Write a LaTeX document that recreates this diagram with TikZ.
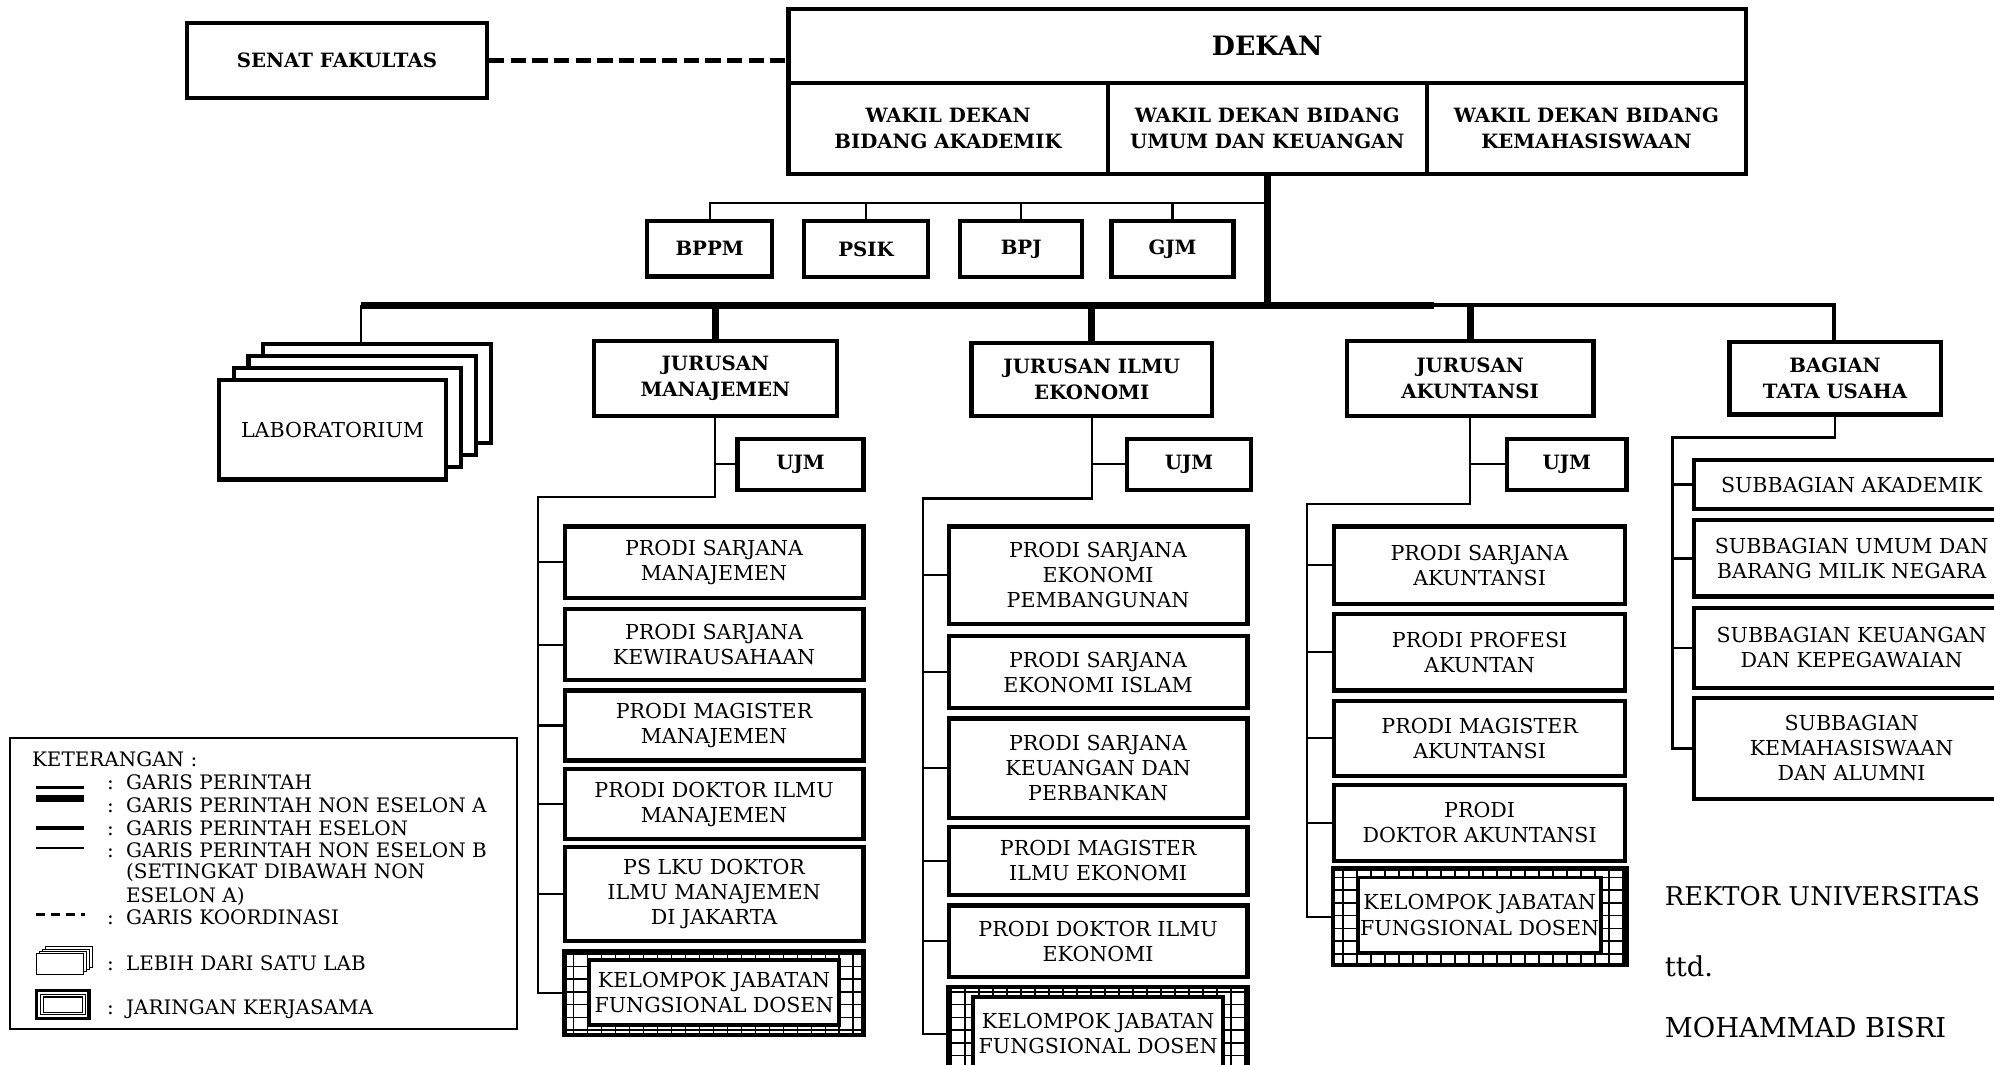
\documentclass[tikz,border=0pt]{standalone}
\usepackage{fontspec}
\setmainfont{DejaVu Serif}

\begin{document}
\begin{tikzpicture}[
  x=1pt, y=-1pt,
  every node/.style={font=\fontsize{16.2}{19.7}\selectfont},
  headbox/.style={draw, line width=3.3pt, fill=white, align=center, inner sep=0pt, font=\fontsize{15.5}{20.5}\selectfont\bfseries},
  unitbox/.style={draw, line width=3.3pt, fill=white, align=center, inner sep=0pt},
  labbox/.style={draw, line width=3.3pt, fill=white, minimum width=179pt, minimum height=78pt, inner sep=0pt},
  jarframe/.style={draw, line width=3.5pt, inner sep=0pt},
  jarcore/.style={draw, line width=3pt, fill=white, align=center, inner sep=0pt},
  lineA/.style={line width=5.5pt},
  lineE/.style={line width=3pt},
  lineB/.style={line width=1.6pt},
  lineP/.style={line width=2.2pt},
  koord/.style={line width=4pt, dash pattern=on 12pt off 5pt},
  legtext/.style={anchor=base west, inner sep=0pt, font=\fontsize{15.7}{18}\selectfont},
  signtext/.style={anchor=base west, inner sep=0pt, font=\fontsize{21.5}{24}\selectfont},
]
\path[use as bounding box, fill=white] (0,0) rectangle (1568,837);
\clip (0,0) rectangle (1568,837);

% ---- pimpinan ----
\node[headbox, minimum width=236pt, minimum height=59pt] (senat) at (265,47.5) {SENAT FAKULTAS};
\node[headbox, minimum width=753pt, minimum height=58pt, font=\fontsize{21}{24}\selectfont\bfseries] (dekan) at (996.5,36) {DEKAN};
\node[headbox, minimum width=251pt, minimum height=72pt] (wd1) at (745.5,101) {WAKIL DEKAN\\BIDANG AKADEMIK};
\node[headbox, minimum width=251pt, minimum height=72pt] (wd2) at (996.5,101) {WAKIL DEKAN BIDANG\\UMUM DAN KEUANGAN};
\node[headbox, minimum width=251pt, minimum height=72pt] (wd3) at (1247.5,101) {WAKIL DEKAN BIDANG\\KEMAHASISWAAN};
\draw[koord] (senat.east) -- (senat.east -| dekan.west);

% ---- unit penunjang ----
\node[headbox, minimum width=98pt, minimum height=44pt] (bppm) at (558,195.5) {BPPM};
\node[headbox, minimum width=97pt, minimum height=44pt] (psik) at (681,196) {PSIK};
\node[headbox, minimum width=96pt, minimum height=44pt] (bpj) at (803,196) {BPJ};
\node[headbox, minimum width=96pt, minimum height=44pt] (gjm) at (922,196) {GJM};
\coordinate (stf) at (558,160);
\draw[lineB] (bppm.north) -- (stf) -- (stf -| wd2.south);
\foreach \s in {psik,bpj,gjm}
  \draw[lineB] (\s.north) -- (\s.north |- stf);

% ---- garis utama ----
\coordinate (busL) at (284,240);
\coordinate (busM) at (1128,240);
\coordinate (busR) at (1442,240);
\draw[lineA] (wd2.south) -- (wd2.south |- busL);
\draw[lineA] (busL) -- (busM);

% ---- laboratorium ----
\foreach \k in {3,2,1}
  \node[labbox] (lab\k) at ({261.5+11.7*\k},{338-9.5*\k}) {};
\node[labbox] (lab0) at (261.5,338) {LABORATORIUM};
\draw[lineB] (busL) -- (busL |- lab3.north);

% ---- jurusan dan bagian ----
\node[headbox, minimum width=191pt, minimum height=59pt] (jm) at (562.5,297.5) {JURUSAN\\MANAJEMEN};
\node[headbox, minimum width=189pt, minimum height=57pt] (jie) at (858.5,298.5) {JURUSAN ILMU\\EKONOMI};
\node[headbox, minimum width=194pt, minimum height=59pt] (ja) at (1156,297.5) {JURUSAN\\AKUNTANSI};
\node[headbox, minimum width=166pt, minimum height=57pt] (tu) at (1443,297.5) {BAGIAN\\TATA USAHA};
\foreach \j in {jm,jie,ja}
  \draw[lineA] (\j.north) -- (\j.north |- busL);
\draw[lineE] (busM) -- (busR) -- (busR |- tu.north);

\node[headbox, minimum width=99pt, minimum height=40pt] (ujm1) at (629.5,365) {UJM};
\node[headbox, minimum width=98pt, minimum height=40pt] (ujm2) at (935,365) {UJM};
\node[headbox, minimum width=94pt, minimum height=40pt] (ujm3) at (1232,365) {UJM};

% ---- prodi manajemen ----
\node[unitbox, minimum width=235pt, minimum height=56pt] (pm1) at (561.5,442) {PRODI SARJANA\\MANAJEMEN};
\node[unitbox, minimum width=235pt, minimum height=56pt] (pm2) at (561.5,507) {PRODI SARJANA\\KEWIRAUSAHAAN};
\node[unitbox, minimum width=235pt, minimum height=55pt] (pm3) at (561.5,570.5) {PRODI MAGISTER\\MANAJEMEN};
\node[unitbox, minimum width=235pt, minimum height=55pt] (pm4) at (561.5,632.5) {PRODI DOKTOR ILMU\\MANAJEMEN};
\node[unitbox, minimum width=235pt, minimum height=74pt] (pm5) at (561.5,703) {PS LKU DOKTOR\\ILMU MANAJEMEN\\DI JAKARTA};
\node[jarframe, minimum width=235pt, minimum height=66pt] (pm6) at (561.5,781) {};

% ---- prodi ilmu ekonomi ----
\node[unitbox, minimum width=235pt, minimum height=77pt] (pe1) at (863.5,452.5) {PRODI SARJANA\\EKONOMI\\PEMBANGUNAN};
\node[unitbox, minimum width=235pt, minimum height=57pt] (pe2) at (863.5,528.5) {PRODI SARJANA\\EKONOMI ISLAM};
\node[unitbox, minimum width=235pt, minimum height=78pt] (pe3) at (863.5,604) {PRODI SARJANA\\KEUANGAN DAN\\PERBANKAN};
\node[unitbox, minimum width=235pt, minimum height=54pt] (pe4) at (863.5,677) {PRODI MAGISTER\\ILMU EKONOMI};
\node[unitbox, minimum width=235pt, minimum height=56pt] (pe5) at (863.5,740) {PRODI DOKTOR ILMU\\EKONOMI};
\node[jarframe, minimum width=235pt, minimum height=74pt] (pe6) at (863.5,813) {};

% ---- prodi akuntansi ----
\node[unitbox, minimum width=229pt, minimum height=61pt] (pa1) at (1163.5,444.5) {PRODI SARJANA\\AKUNTANSI};
\node[unitbox, minimum width=229pt, minimum height=60pt] (pa2) at (1163.5,513) {PRODI PROFESI\\AKUNTAN};
\node[unitbox, minimum width=229pt, minimum height=59pt] (pa3) at (1163.5,580.5) {PRODI MAGISTER\\AKUNTANSI};
\node[unitbox, minimum width=229pt, minimum height=60pt] (pa4) at (1163.5,647) {PRODI\\DOKTOR AKUNTANSI};
\node[jarframe, minimum width=231pt, minimum height=76pt] (pa5) at (1163.5,721) {};

% ---- jaringan kerjasama: frame with grid, core on top ----
\foreach \f in {pm6,pe6,pa5}{
  \begin{scope}
    \clip (\f.south west) rectangle (\f.north east);
    \draw[line width=1.3pt] (\f.south west) grid[xstep=11pt, ystep=10pt] (\f.north east);
  \end{scope}
}
\node[jarcore, minimum width=197pt, minimum height=51pt] (pm6c) at (561.5,780.5) {KELOMPOK JABATAN\\FUNGSIONAL DOSEN};
\node[jarcore, minimum width=197pt, minimum height=58pt] (pe6c) at (863.5,813) {KELOMPOK JABATAN\\FUNGSIONAL DOSEN};
\node[jarcore, minimum width=191pt, minimum height=59pt] (pa5c) at (1163.5,719.5) {KELOMPOK JABATAN\\FUNGSIONAL DOSEN};

% ---- subbagian ----
\node[unitbox, minimum width=248pt, minimum height=38pt] (sb1) at (1456,381) {SUBBAGIAN AKADEMIK};
\node[unitbox, minimum width=248pt, minimum height=60pt] (sb2) at (1456,439) {SUBBAGIAN UMUM DAN\\BARANG MILIK NEGARA};
\node[unitbox, minimum width=248pt, minimum height=63pt] (sb3) at (1456,509.5) {SUBBAGIAN KEUANGAN\\DAN KEPEGAWAIAN};
\node[unitbox, minimum width=248pt, minimum height=79pt] (sb4) at (1456,588.5) {SUBBAGIAN\\KEMAHASISWAAN\\DAN ALUMNI};

% ---- garis ke prodi dan subbagian ----
\coordinate (jm-k) at (423,391);
\coordinate (jie-k) at (726,392);
\coordinate (ja-k) at (1028,396);
\coordinate (tu-k) at (1315,344);
\draw[lineB] (jm.south) |- (jm-k) -- (jm-k |- pm6.west) -- (pm6.west);
\draw[lineB] (jie.south) |- (jie-k) -- (jie-k |- pe6.west) -- (pe6.west);
\draw[lineB] (ja.south) |- (ja-k) -- (ja-k |- pa5.west) -- (pa5.west);
\draw[lineP] (tu.south) |- (tu-k) -- (tu-k |- sb4.west) -- (sb4.west);
\draw[lineB] (jm.south |- ujm1.west) -- (ujm1.west);
\draw[lineB] (jie.south |- ujm2.west) -- (ujm2.west);
\draw[lineB] (ja.south |- ujm3.west) -- (ujm3.west);
\foreach \p in {pm1,pm2,pm3,pm4,pm5}
  \draw[lineB] (jm-k |- \p.west) -- (\p.west);
\foreach \p in {pe1,pe2,pe3,pe4,pe5}
  \draw[lineB] (jie-k |- \p.west) -- (\p.west);
\foreach \p in {pa1,pa2,pa3,pa4}
  \draw[lineB] (ja-k |- \p.west) -- (\p.west);
\foreach \p in {sb1,sb2,sb3}
  \draw[lineP] (tu-k |- \p.west) -- (\p.west);

% ---- keterangan ----
\node[draw, line width=1.3pt, minimum width=398.5pt, minimum height=228.5pt, inner sep=0pt] (legend) at (207.25,694.75) {};
\node[legtext] (ket) at (25,603) {KETERANGAN :};
\foreach \yy/\tx [count=\i] in {621/GARIS PERINTAH, 639/GARIS PERINTAH NON ESELON A, 657/GARIS PERINTAH ESELON, 674.5/GARIS PERINTAH NON ESELON B, 727/GARIS KOORDINASI, 763.5/LEBIH DARI SATU LAB, 798/JARINGAN KERJASAMA}{
  \node[legtext] (leg\i) at (99,\yy) {\tx};
  \node[legtext] at (84,\yy) {:};
}
\node[legtext] (leg4b) at (99,691) {(SETINGKAT DIBAWAH NON};
\node[legtext] (leg4c) at (99,710) {ESELON A)};
\draw[lineP] (28,619) -- (66,619);
\draw[line width=5pt] (28,628) -- (66,628);
\draw[lineE] (28,651) -- (66,651);
\draw[lineB] (28,667) -- (66,667);
\draw[line width=2pt, dash pattern=on 7pt off 5pt] (28,719) -- (67,719);
\foreach \k in {3,2,1,0}
  \draw[line width=0.7pt, fill=white] ({29+2.2*\k},{750-1.8*\k}) rectangle ++(37,16);
\draw[line width=2.4pt] (29,779) rectangle (70,801);
\draw[line width=0.6pt] (32,782) rectangle (67,798);
\draw[line width=0.9pt] (34,784) rectangle (65,796);

% ---- pengesahan ----
\node[signtext, font=\fontsize{20.3}{24}\selectfont] (rektor) at (1309,712) {REKTOR UNIVERSITAS};
\node[signtext] (ttd) at (1309,768) {ttd.};
\node[signtext] (bisri) at (1309,816) {MOHAMMAD BISRI};

\end{tikzpicture}
\end{document}
